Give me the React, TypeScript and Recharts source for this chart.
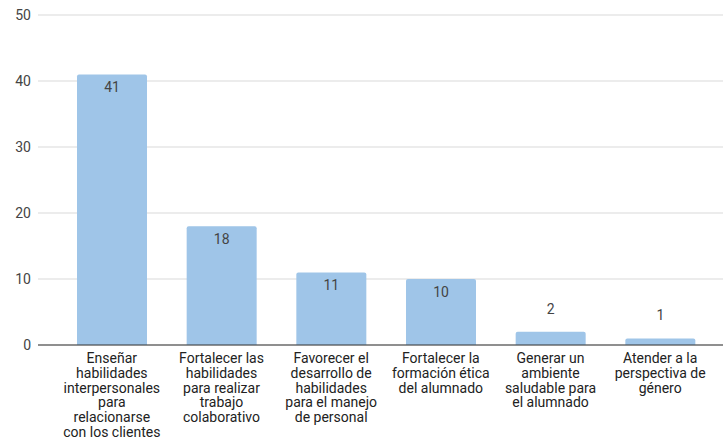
import { Bar, BarChart, CartesianGrid, LabelList, XAxis, YAxis } from "recharts";

const categories = [
  "Enseñar\nhabilidades\ninterpersonales\npara\nrelacionarse\ncon los clientes",
  "Fortalecer las\nhabilidades\npara realizar\ntrabajo\ncolaborativo",
  "Favorecer el\ndesarrollo de\nhabilidades\npara el manejo\nde personal",
  "Fortalecer la\nformación ética\ndel alumnado",
  "Generar un\nambiente\nsaludable para\nel alumnado",
  "Atender a la\nperspectiva de\ngénero",
];
const counts = [41, 18, 11, 10, 2, 1];
const yTicks = [0, 10, 20, 30, 40, 50];

const data = categories.map((name, i) => ({ name, value: counts[i] }));

const font = "Roboto, Arial, sans-serif";

function CategoryTick(props: any) {
  const { x, y, payload } = props;
  const lines = String(payload.value).split("\n");
  return (
    <text x={x} y={y + 10} textAnchor="middle" fontSize={14} fontFamily={font} fill="#222">
      {lines.map((line, i) => (
        <tspan key={i} x={x} dy={i === 0 ? 0 : 14.8}>
          {line}
        </tspan>
      ))}
    </text>
  );
}

function ValueLabel(props: any) {
  const { x, y, width, height, value } = props;
  const inside = height > 30;
  return (
    <text
      x={x + width / 2}
      y={inside ? y + 18 : y - 18}
      textAnchor="middle"
      fontSize={14}
      fontFamily={font}
      fill="#444"
    >
      {value}
    </text>
  );
}

export default function App() {
  return (
    <div style={{ position: "absolute", left: 0, top: 0, background: "#fff" }}>
      <BarChart width={723} height={440} data={data} margin={{ top: 15, right: 0, left: 0, bottom: 65 }}>
        <CartesianGrid vertical={false} stroke="#d9d9d9" />
        <XAxis
          dataKey="name"
          height={30}
          interval={0}
          tickLine={false}
          axisLine={{ stroke: "#333" }}
          padding={{ left: 19, right: 8 }}
          tick={<CategoryTick />}
        />
        <YAxis
          width={38}
          domain={[0, 50]}
          ticks={yTicks}
          tickLine={false}
          axisLine={false}
          tickMargin={1}
          tick={{ fontSize: 14, fontFamily: font, fill: "#444" }}
        />
        <Bar dataKey="value" fill="#9fc5e8" barSize={70} radius={[2, 2, 0, 0]} isAnimationActive={false}>
          <LabelList dataKey="value" content={<ValueLabel />} />
        </Bar>
      </BarChart>
    </div>
  );
}
